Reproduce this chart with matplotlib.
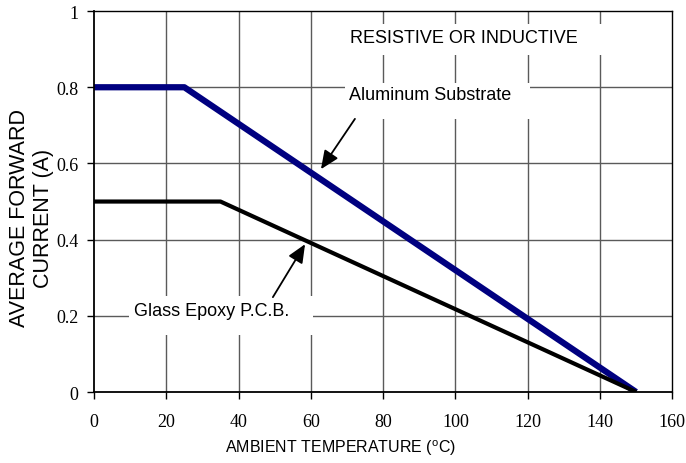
import matplotlib
matplotlib.use("Agg")
import matplotlib.pyplot as plt
from matplotlib.patches import Rectangle

temp_al = [0, 25, 150]
curr_al = [0.8, 0.8, 0.0]
temp_gl = [0, 35, 150]
curr_gl = [0.5, 0.5, 0.0]
xticks = [0, 20, 40, 60, 80, 100, 120, 140, 160]
yticks = [0, 0.2, 0.4, 0.6, 0.8, 1]
ytick_labels = ["0", "0.2", "0.4", "0.6", "0.8", "1"]

plt.rcParams['mathtext.fontset'] = 'custom'
plt.rcParams['mathtext.rm'] = 'Liberation Sans'

fig = plt.figure(figsize=(6.86, 4.64), dpi=100)
ax = fig.add_axes([0.137, 0.153, 0.843, 0.821])
ax.set_xlim(0, 160)
ax.set_ylim(0, 1)

for x in xticks[1:-1]:
    ax.axvline(x, color="#5a5a5a", lw=1.0, zorder=1)
for y in yticks[1:-1]:
    ax.axhline(y, color="#5a5a5a", lw=1.0, zorder=1)

ax.plot(temp_al, curr_al, color="#000080", lw=4.5, zorder=3, solid_capstyle='butt')
ax.plot(temp_gl, curr_gl, color="black", lw=3.0, zorder=3, solid_capstyle='butt')

for s in ["top", "right", "left", "bottom"]:
    ax.spines[s].set_linewidth(1.3)
    ax.spines[s].set_zorder(4)
for s in ["top", "right"]:
    ax.spines[s].set_linewidth(1.0)

ax.set_xticks(xticks)
ax.set_xticklabels([str(v) for v in xticks], family="Liberation Serif", fontsize=13)
ax.set_yticks(yticks)
ax.set_yticklabels(ytick_labels, family="Liberation Serif", fontsize=13)
ax.tick_params(direction="out", length=5, width=1, pad=6)
ax.tick_params(axis='x', pad=10)

ax.set_xlabel("AMBIENT TEMPERATURE (" + r"$^{\rm o}$" + "C)", family="Liberation Sans", fontsize=11.5)
ax.xaxis.set_label_coords(0.426, -0.118)
ax.set_ylabel("AVERAGE FORWARD\nCURRENT (A)", family="Liberation Sans", fontsize=15.5, linespacing=1.2)
ax.yaxis.set_label_coords(-0.069, 0.459)

# white blanking boxes behind labels (axes-fraction coordinates)
for (x0, y0, w, h) in [(0.433, 0.885, 0.455, 0.082),
                       (0.434, 0.716, 0.320, 0.094),
                       (0.061, 0.150, 0.318, 0.102)]:
    ax.add_patch(Rectangle((x0, y0), w, h, transform=ax.transAxes,
                           facecolor="white", edgecolor="none", zorder=2))

ax.text(70.8, 0.93, "RESISTIVE OR INDUCTIVE", family="Liberation Sans", fontsize=13, va="center", ha="left", zorder=5)
ax.text(70.5, 0.78, "Aluminum Substrate", family="Liberation Sans", fontsize=13, va="center", ha="left", zorder=5)
ax.text(11.2, 0.215, "Glass Epoxy P.C.B.", family="Liberation Sans", fontsize=13, va="center", ha="left", zorder=5)

ax.annotate("", xy=(62.8, 0.585), xytext=(72.2, 0.717),
            arrowprops=dict(arrowstyle="-|>,head_length=0.8,head_width=0.35", color="black", lw=1.3,
                            mutation_scale=14, shrinkA=0, shrinkB=0), zorder=5)
ax.annotate("", xy=(58.4, 0.388), xytext=(49.5, 0.249),
            arrowprops=dict(arrowstyle="-|>,head_length=0.8,head_width=0.35", color="black", lw=1.3,
                            mutation_scale=14, shrinkA=0, shrinkB=0), zorder=5)

fig.savefig("out.png", dpi=100)
